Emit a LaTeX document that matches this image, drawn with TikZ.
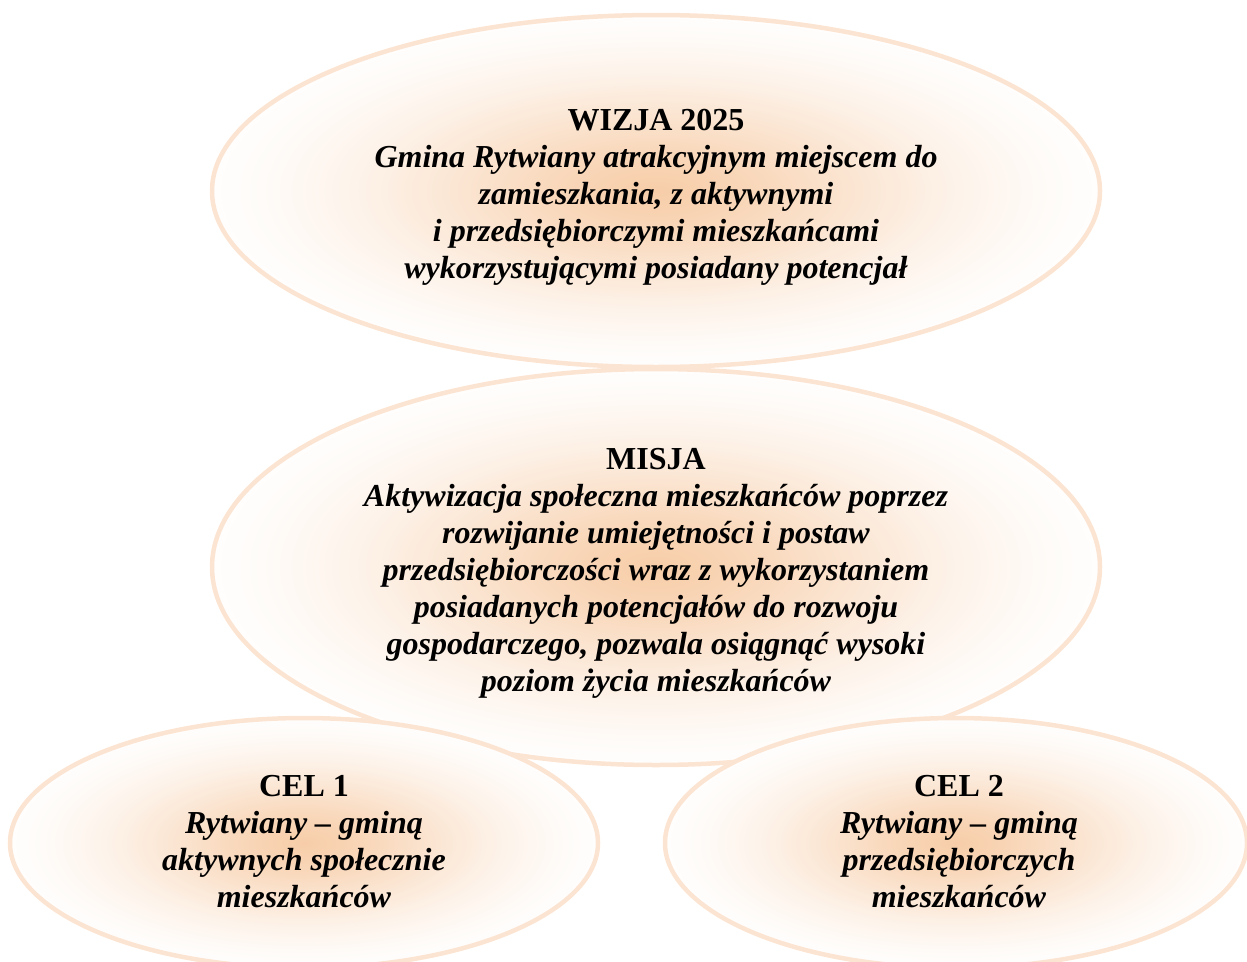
\documentclass[tikz,border=0pt]{standalone}
\usepackage{fontspec}
\setmainfont{Liberation Serif}
\usetikzlibrary{shapes.geometric}
\definecolor{peachc}{RGB}{247,205,168}
\definecolor{rimc}{RGB}{252,228,210}
\pgfdeclareradialshading{peachglow}{\pgfpoint{0bp}{0bp}}{%
  color(0bp)=(peachc);
  color(5bp)=(peachc!82!white);
  color(11bp)=(peachc!52!white);
  color(17bp)=(peachc!24!white);
  color(22.5bp)=(peachc!7!white);
  color(26bp)=(white);
  color(50bp)=(white)}
\tikzset{
  oval/.style={ellipse, draw=rimc, line width=4.5pt, shading=peachglow,
    inner sep=0pt},
  ovaltext/.style={align=center, text=black, inner sep=0pt,
    font=\fontsize{32}{37}\selectfont\bfseries},
}
\begin{document}
\begin{tikzpicture}[x=1pt,y=-1pt]
\useasboundingbox (0,0) rectangle (1247,961);
\node[oval, minimum width=888pt, minimum height=352pt] (wizja) at (656,191) {};
\node[oval, minimum width=888pt, minimum height=396pt] (misja) at (656,567) {};
\node[oval, minimum width=588pt, minimum height=250pt] (cel1) at (304,843) {};
\node[oval, minimum width=582pt, minimum height=250pt] (cel2) at (956,843) {};
\node[ovaltext] (wizjat) at ([yshift=-6pt]wizja.center)
  {WIZJA 2025\\ \textit{Gmina Rytwiany atrakcyjnym miejscem do}\\
   \textit{zamieszkania, z aktywnymi}\\
   \textit{i przedsiębiorczymi mieszkańcami}\\
   \textit{wykorzystującymi posiadany potencjał}};
\node[ovaltext] (misjat) at ([yshift=-6pt]misja.center)
  {MISJA\\ \textit{Aktywizacja społeczna mieszkańców poprzez}\\
   \textit{rozwijanie umiejętności i postaw}\\
   \textit{przedsiębiorczości wraz z wykorzystaniem}\\
   \textit{posiadanych potencjałów do rozwoju}\\
   \textit{gospodarczego, pozwala osiągnąć wysoki}\\
   \textit{poziom życia mieszkańców}};
\node[ovaltext] (cel1t) at ([yshift=1pt]cel1.center)
  {CEL 1\\ \textit{Rytwiany – gminą}\\
   \textit{aktywnych społecznie}\\
   \textit{mieszkańców}};
\node[ovaltext] (cel2t) at ([xshift=3pt,yshift=1pt]cel2.center)
  {CEL 2\\ \textit{Rytwiany – gminą}\\
   \textit{przedsiębiorczych}\\
   \textit{mieszkańców}};
\end{tikzpicture}
\end{document}
